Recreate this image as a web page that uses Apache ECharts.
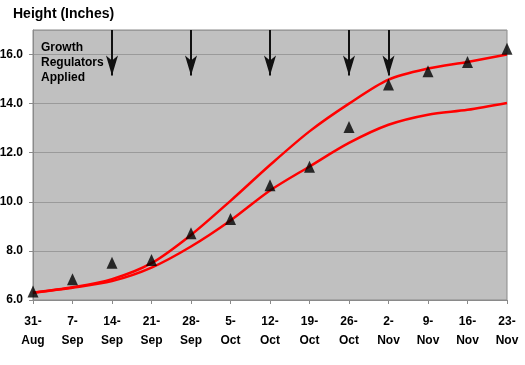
<!DOCTYPE html>
<html><head><meta charset="utf-8">
<script src="https://cdn.jsdelivr.net/npm/echarts@6/dist/echarts.min.js"></script>
<style>html,body{margin:0;padding:0;background:#fff}#c{width:525px;height:365px}</style>
</head><body><div id="c"></div>
<script>
var categories = ['31-\nAug','7-\nSep','14-\nSep','21-\nSep','28-\nSep','5-\nOct','12-\nOct','19-\nOct','26-\nOct','2-\nNov','9-\nNov','16-\nNov','23-\nNov'];
var observed = [6.35, 6.85, 7.52, 7.63, 8.72, 9.3, 10.68, 11.43, 13.05, 14.78, 15.32, 15.7, 16.24];
var upperCurve = [6.3, 6.52, 6.85, 7.5, 8.65, 10.04, 11.5, 12.87, 14.0, 14.98, 15.43, 15.7, 16.0];
var lowerCurve = [6.3, 6.5, 6.77, 7.32, 8.18, 9.24, 10.46, 11.44, 12.4, 13.14, 13.55, 13.75, 14.03];
var arrowDates = ['14-\nSep','28-\nSep','12-\nOct','26-\nOct','2-\nNov'];
var arrowTop = 17, arrowTip = 15.15;

var font = 'Arial, "Liberation Sans", sans-serif';
var chart = echarts.init(document.getElementById('c'), null, {renderer:'canvas'});
chart.setOption({
  animation: false,
  backgroundColor: '#fff',
  title: {text: 'Height (Inches)', left: 8, top: 2,
    textStyle: {fontFamily: font, fontSize: 14, fontWeight: 'bold', color: '#000'}},
  grid: {left: 33, right: 18, top: 30, bottom: 65, outerBoundsMode: 'none', containLabel: false,
    show: true, backgroundColor: '#c0c0c0', borderColor: '#8a8a8a', borderWidth: 1},
  graphic: [{type: 'text', left: 41, top: 40,
    style: {text: 'Growth\nRegulators\nApplied', font: 'bold 12px ' + font, fill: '#000', lineHeight: 15}}],
  xAxis: {type: 'category', data: categories, boundaryGap: false,
    axisLine: {lineStyle: {color: '#8a8a8a'}},
    axisTick: {show: true, length: 4, lineStyle: {color: '#8a8a8a'}},
    axisLabel: {fontFamily: font, fontSize: 12, fontWeight: 'bold', color: '#000', margin: 12, lineHeight: 19, interval: 0},
    splitLine: {show: false}},
  yAxis: {type: 'value', min: 6, max: 17, interval: 2,
    axisLine: {show: true, lineStyle: {color: '#8a8a8a'}},
    axisTick: {show: true, length: 4, lineStyle: {color: '#8a8a8a'}},
    axisLabel: {fontFamily: font, fontSize: 12, fontWeight: 'bold', color: '#000', margin: 10, showMaxLabel: false,
      formatter: function(v){ return v >= 17 ? '' : v.toFixed(1); }},
    splitLine: {show: true, lineStyle: {color: '#9a9a9a', width: 1}}},
  series: [
    {type: 'line', data: upperCurve, smooth: 0.3, symbol: 'none', lineStyle: {color: '#ff0000', width: 2.5}, z: 3},
    {type: 'line', data: lowerCurve, smooth: 0.3, symbol: 'none', lineStyle: {color: '#ff0000', width: 2.5}, z: 3},
    {type: 'scatter', data: observed, symbol: 'triangle', symbolSize: [11, 12], itemStyle: {color: '#000'}, z: 4},
    {type: 'line', data: [], symbol: 'none',
      markLine: {silent: true, symbol: ['none', 'arrow'], symbolSize: [9, 20], label: {show: false},
        lineStyle: {color: '#111', width: 2, type: 'solid'},
        data: arrowDates.map(function(d){ return [{xAxis: d, yAxis: arrowTop}, {xAxis: d, yAxis: arrowTip}]; })}}
  ]
});
</script></body></html>
